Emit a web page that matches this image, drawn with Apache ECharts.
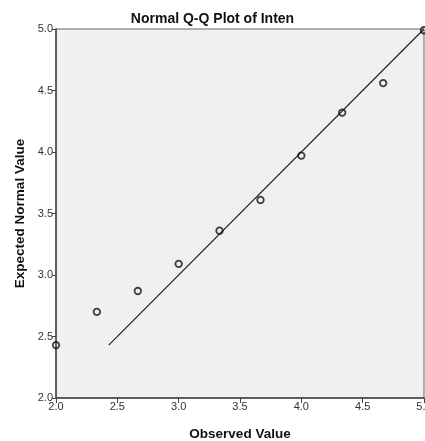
<!DOCTYPE html>
<html>
<head>
<meta charset="utf-8">
<script src="https://cdn.jsdelivr.net/npm/echarts@6/dist/echarts.min.js"></script>
<style>
  html, body { margin: 0; padding: 0; background: #fff; }
  #chart { width: 425px; height: 441px; }
</style>
</head>
<body>
<div id="chart"></div>
<script>
// Observed values of Inten and their expected normal quantiles
const observed = [2.0, 2.333, 2.667, 3.0, 3.333, 3.667, 4.0, 4.333, 4.667, 5.0];
const expected = [2.43, 2.70, 2.87, 3.09, 3.36, 3.61, 3.97, 4.32, 4.56, 4.99];
// Reference line y = x across the range of expected values
const refLine = [[2.43, 2.43], [5.0, 5.0]];

const points = observed.map((v, i) => [v, expected[i]]);
const font = 'Liberation Sans, Arial, sans-serif';
const tickFont = '"Liberation Sans Narrow", "Liberation Sans", Arial, sans-serif';

const chart = echarts.init(document.getElementById('chart'), null, { renderer: 'canvas' });
chart.setOption({
  animation: false,
  backgroundColor: '#ffffff',
  title: {
    text: 'Normal Q-Q Plot of Inten',
    left: 'center',
    top: 7,
    textStyle: { fontFamily: font, fontSize: 14, fontWeight: 'bold', color: '#111' }
  },
  grid: {
    left: 56, right: 1, top: 29, bottom: 43,
    outerBoundsMode: 'none',
    containLabel: false,
    show: true, backgroundColor: '#f0f0f0', borderColor: '#666', borderWidth: 1
  },
  xAxis: {
    type: 'value', min: 2.0, max: 5.0, interval: 0.5,
    name: 'Observed Value', nameLocation: 'middle', nameGap: 29,
    nameTextStyle: { fontFamily: font, fontSize: 13.5, fontWeight: 'bold', color: '#111' },
    axisLine: { lineStyle: { color: '#444', width: 1.5 } },
    axisTick: { show: true, length: 5, lineStyle: { color: '#444' } },
    axisLabel: { fontFamily: tickFont, fontSize: 11, color: '#333', margin: 3,
      formatter: v => v.toFixed(1) },
    splitLine: { show: false }
  },
  yAxis: {
    type: 'value', min: 2.0, max: 5.0, interval: 0.5,
    name: 'Expected Normal Value', nameLocation: 'middle', nameGap: 29,
    nameTextStyle: { fontFamily: font, fontSize: 13.5, fontWeight: 'bold', color: '#111' },
    axisLine: { lineStyle: { color: '#444', width: 1.5 } },
    axisTick: { show: true, length: 4, lineStyle: { color: '#444' } },
    axisLabel: { fontFamily: tickFont, fontSize: 11, color: '#333', margin: 3,
      formatter: v => v.toFixed(1) },
    splitLine: { show: false }
  },
  series: [
    {
      type: 'line',
      data: refLine,
      symbol: 'none',
      lineStyle: { color: '#222', width: 1.2 },
      z: 2
    },
    {
      type: 'scatter',
      data: points,
      symbol: 'circle',
      symbolSize: 6.5,
      itemStyle: { color: 'rgba(0,0,0,0)', borderColor: '#111', borderWidth: 1.8 },
      clip: false,
      z: 3
    }
  ]
});
</script>
</body>
</html>
